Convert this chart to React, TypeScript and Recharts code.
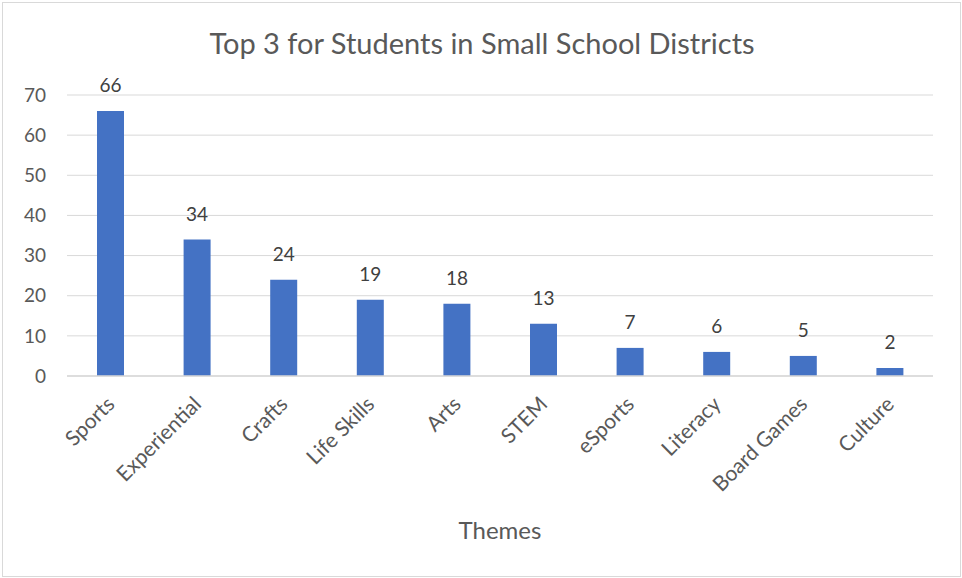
import { Bar, BarChart, CartesianGrid, LabelList, XAxis, YAxis } from 'recharts';

const THEMES = ['Sports', 'Experiential', 'Crafts', 'Life Skills', 'Arts', 'STEM', 'eSports', 'Literacy', 'Board Games', 'Culture'];
const COUNTS = [66, 34, 24, 19, 18, 13, 7, 6, 5, 2];
const Y_TICKS = [0, 10, 20, 30, 40, 50, 60, 70];

const FONT = 'Lato, "Open Sans", sans-serif';
const TEXT_COLOR = '#595959';

const chartData = THEMES.map((theme, i) => ({ theme, count: COUNTS[i] }));

function RotatedTick({ x, y, payload }: { x?: number; y?: number; payload?: { value: string } }) {
    const ax = (x ?? 0) - 5;
    const ay = (y ?? 0) + 11;
    return (
        <text
            x={ax}
            y={ay}
            dy="0.71em"
            textAnchor="end"
            transform={`rotate(-45, ${ax}, ${ay})`}
            fontSize={21}
            fontFamily={FONT}
            fill={TEXT_COLOR}
        >
            {payload?.value}
        </text>
    );
}

export default function App() {
    return (
        <div
            style={{
                position: 'absolute',
                left: 0,
                top: 0,
                width: 962,
                height: 578,
                background: '#fff',
                fontFamily: FONT,
            }}
        >
            <div
                style={{
                    position: 'absolute',
                    left: 2,
                    top: 2,
                    width: 957,
                    height: 573,
                    border: '1px solid #d9d9d9',
                }}
            />
            <div
                style={{
                    position: 'absolute',
                    left: 0,
                    width: 964,
                    top: 25,
                    textAlign: 'center',
                    fontSize: 29,
                    color: TEXT_COLOR,
                }}
            >
                Top 3 for Students in Small School Districts
            </div>
            <div
                style={{
                    position: 'absolute',
                    left: 0,
                    width: 1000,
                    top: 515,
                    textAlign: 'center',
                    fontSize: 24,
                    color: TEXT_COLOR,
                }}
            >
                Themes
            </div>
            <div style={{ position: 'absolute', left: 0, top: 0 }}>
                <BarChart
                    width={962}
                    height={578}
                    data={chartData}
                    margin={{ top: 95, right: 29, left: 0, bottom: 0 }}
                    barSize={27}
                >
                    <CartesianGrid vertical={false} stroke="#d9d9d9" strokeWidth={1} />
                    <XAxis
                        dataKey="theme"
                        height={202}
                        interval={0}
                        tickLine={false}
                        axisLine={{ stroke: '#d9d9d9', strokeWidth: 1.5 }}
                        tick={<RotatedTick />}
                    />
                    <YAxis
                        width={67}
                        domain={[0, 70]}
                        ticks={Y_TICKS}
                        axisLine={false}
                        tickLine={false}
                        tickMargin={15}
                        tick={{ fontSize: 19, fill: TEXT_COLOR, fontFamily: FONT }}
                    />
                    <Bar dataKey="count" fill="#4472C4" isAnimationActive={false}>
                        <LabelList
                            dataKey="count"
                            position="top"
                            offset={19}
                            fontSize={19}
                            fill="#404040"
                            fontFamily={FONT}
                        />
                    </Bar>
                </BarChart>
            </div>
        </div>
    );
}
